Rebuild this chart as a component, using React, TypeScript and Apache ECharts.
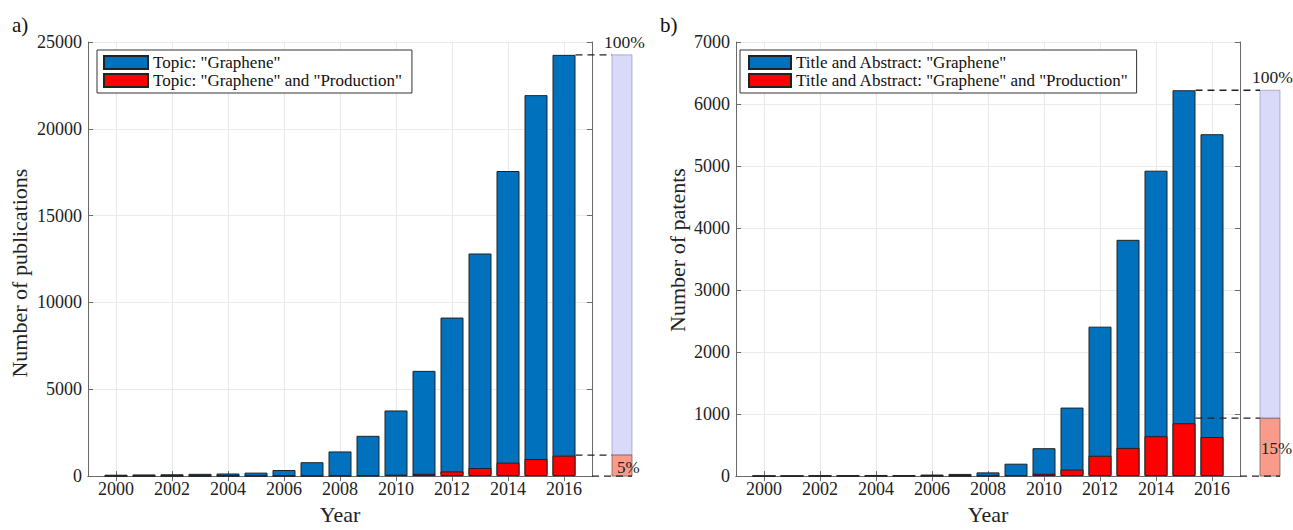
import React, { useEffect, useRef } from "react";
import * as echarts from "echarts";

// ---------- data ----------
const years = [2000, 2001, 2002, 2003, 2004, 2005, 2006, 2007, 2008, 2009, 2010, 2011, 2012, 2013, 2014, 2015, 2016];
const pubTotal = [80, 95, 105, 130, 150, 200, 350, 800, 1420, 2320, 3780, 6060, 9130, 12820, 17570, 21940, 24260];
const pubProduction = [0, 0, 0, 2, 3, 4, 5, 8, 15, 30, 80, 130, 270, 465, 777, 981, 1180];
const patTotal = [3, 4, 10, 12, 18, 16, 25, 35, 60, 200, 450, 1105, 2410, 3810, 4925, 6222, 5513];
const patProduction = [0, 0, 0, 0, 1, 1, 2, 2, 4, 11, 38, 106, 328, 455, 643, 852, 630];
const seriesNames = [
  'Topic: "Graphene"',
  'Topic: "Graphene" and "Production"',
  'Title and Abstract: "Graphene"',
  'Title and Abstract: "Graphene" and "Production"',
];
const shareFractions = [0.05, 0.15];
const shareLabels = ["5%", "15%"];
const fullLabel = "100%";
const panelLabels = ["a)", "b)"];
const yNames = ["Number of publications", "Number of patents"];
const xName = "Year";
const yMax = [25000, 7000];
const yStep = [5000, 1000];

// ---------- style ----------
const FONT = '"Liberation Serif", "Times New Roman", serif';
const BLUE = "#0072BD";
const RED = "#FF0000";
const EDGE = "#222222";
const AXIS = "#6a6a6a";
const GRIDC = "#e9e9e9";
const BAR_W = 23;
const PCT_OFFSET = 20;
const PCT_W = 20;

const categories = ["1999", ...years.map(String), "2017"];
const pad = (arr: number[]) => ["-", ...arr, "-"];
const isLabeled = (_i: number, v: string) => {
  const n = Number(v);
  return n >= 2000 && n <= 2016 && n % 2 === 0;
};
const argMax = (arr: number[]) => {
  let m = 0;
  arr.forEach((v, i) => {
    if (v > arr[m]) m = i;
  });
  return m;
};

function axesFor(g: number, max: number, step: number, yName: string, nameGap: number, namePad: number[]) {
  const xs = [
    {
      type: "category",
      gridIndex: g,
      data: categories,
      boundaryGap: false,
      position: "bottom",
      name: xName,
      nameLocation: "middle",
      nameGap: 25,
      nameTextStyle: { fontSize: 22, color: "#222", fontFamily: FONT },
      axisLine: { show: true, lineStyle: { color: AXIS, width: 1 } },
      axisTick: { show: true, inside: true, length: 5, interval: isLabeled, lineStyle: { color: AXIS } },
      axisLabel: { interval: isLabeled, fontSize: 18, color: "#222", margin: 4, fontFamily: FONT },
      splitLine: { show: true, interval: isLabeled, lineStyle: { color: GRIDC, width: 1 } },
    },
    {
      type: "category",
      gridIndex: g,
      data: categories,
      boundaryGap: false,
      position: "top",
      axisLine: { show: true, lineStyle: { color: AXIS, width: 1 } },
      axisTick: { show: true, inside: true, length: 5, interval: isLabeled, lineStyle: { color: AXIS } },
      axisLabel: { show: false },
      splitLine: { show: false },
    },
  ];
  const ys = [
    {
      type: "value",
      gridIndex: g,
      min: 0,
      max,
      interval: step,
      position: "left",
      name: yName,
      nameLocation: "middle",
      nameGap,
      nameTextStyle: { fontSize: 22, color: "#222", fontFamily: FONT, padding: namePad },
      axisLine: { show: true, lineStyle: { color: AXIS, width: 1 } },
      axisTick: { show: true, inside: true, length: 5, lineStyle: { color: AXIS } },
      axisLabel: { fontSize: 18, color: "#222", margin: 6, fontFamily: FONT, formatter: (v: number) => String(v) },
      splitLine: { show: true, lineStyle: { color: GRIDC, width: 1 } },
    },
    {
      type: "value",
      gridIndex: g,
      min: 0,
      max,
      interval: step,
      position: "right",
      axisLine: { show: true, lineStyle: { color: AXIS, width: 1 } },
      axisTick: { show: true, inside: true, length: 5, lineStyle: { color: AXIS } },
      axisLabel: { show: false },
      splitLine: { show: false },
    },
  ];
  return { xs, ys };
}

function barSeries(g: number, name: string, data: number[], color: string) {
  return {
    type: "bar",
    name,
    xAxisIndex: g * 2,
    yAxisIndex: g * 2,
    data: pad(data),
    barWidth: BAR_W,
    barGap: "-100%",
    itemStyle: { color, borderColor: EDGE, borderWidth: 1 },
    emphasis: { disabled: true },
  };
}

function overlaySeries(g: number, totals: number[], frac: number) {
  const maxI = argMax(totals);
  const top = totals[maxI];
  const share = top * frac;
  return {
    type: "custom",
    xAxisIndex: g * 2,
    yAxisIndex: g * 2,
    z: 3,
    silent: true,
    clip: false,
    data: [[maxI + 1, top, share]],
    encode: { x: 0, y: 1 },
    renderItem: (_params: any, api: any) => {
      const idx = api.value(0);
      const vTop = api.value(1);
      const vShare = api.value(2);
      const [plotRight, y0] = api.coord([categories.length - 1, 0]);
      const yTop = api.coord([idx, vTop])[1];
      const yShare = api.coord([idx, vShare])[1];
      const barRight = api.coord([idx, 0])[0] + BAR_W / 2;
      const px = plotRight + PCT_OFFSET;
      const pw = PCT_W;
      const dash = { stroke: "#222", lineWidth: 1.3, lineDash: [7, 5] };
      return {
        type: "group",
        children: [
          {
            type: "rect",
            shape: { x: px, y: yTop, width: pw, height: yShare - yTop },
            style: { fill: "#d9d9fa", stroke: "rgba(120,120,160,0.5)", lineWidth: 1 },
          },
          {
            type: "rect",
            shape: { x: px, y: yShare, width: pw, height: y0 - yShare },
            style: { fill: "#fa9a8a", stroke: "rgba(90,90,90,0.7)", lineWidth: 1 },
          },
          { type: "line", shape: { x1: barRight, y1: yTop, x2: px, y2: yTop }, style: dash },
          { type: "line", shape: { x1: barRight, y1: yShare, x2: px, y2: yShare }, style: dash },
          { type: "line", shape: { x1: plotRight, y1: y0, x2: px + pw, y2: y0 }, style: dash },
        ],
      };
    },
  };
}

export default function App() {
  const ref = useRef<HTMLDivElement>(null);
  useEffect(() => {
    if (!ref.current) return;
    const chart = echarts.init(ref.current, undefined, { renderer: "svg" });
    const a0 = axesFor(0, yMax[0], yStep[0], yNames[0], 58, [0, 28, 0, 0]);
    const a1 = axesFor(1, yMax[1], yStep[1], yNames[1], 48, [0, 0, 0, 18]);
    const legendBase = {
      orient: "vertical",
      icon: "rect",
      itemHeight: 13,
      itemGap: 1,
      backgroundColor: "#fff",
      borderColor: "#333",
      borderWidth: 1,
      selectedMode: false,
      z: 5,
      textStyle: { fontSize: 17, lineHeight: 17, color: "#111", fontFamily: FONT },
    };
    const titleStyle = { fontSize: 21, fontWeight: "normal", color: "#111", fontFamily: FONT };
    const baseTitles = [
      { text: panelLabels[0], left: 12, top: 14, padding: 0, textStyle: titleStyle },
      { text: panelLabels[1], left: 660, top: 14, padding: 0, textStyle: titleStyle },
    ];
    chart.setOption({
      animation: false,
      textStyle: { fontFamily: FONT },
      title: baseTitles,
      grid: [
        { left: 88, top: 42, width: 504, height: 441, containLabel: false },
        { left: 736, top: 42, width: 504, height: 441, containLabel: false },
      ],
      xAxis: [...a0.xs, ...a1.xs],
      yAxis: [...a0.ys, ...a1.ys],
      legend: [
        { ...legendBase, left: 97, top: 50, itemWidth: 44, padding: [4, 10, 4, 6], data: [seriesNames[0], seriesNames[1]] },
        { ...legendBase, left: 740, top: 50, itemWidth: 42, padding: [4, 8, 4, 8], data: [seriesNames[2], seriesNames[3]] },
      ],
      series: [
        barSeries(0, seriesNames[0], pubTotal, BLUE),
        barSeries(0, seriesNames[1], pubProduction, RED),
        barSeries(1, seriesNames[2], patTotal, BLUE),
        barSeries(1, seriesNames[3], patProduction, RED),
        overlaySeries(0, pubTotal, shareFractions[0]),
        overlaySeries(1, patTotal, shareFractions[1]),
      ],
    });

    // percentage texts, placed through the axes' own scales
    const totalsList = [pubTotal, patTotal];
    const shareDx = [5, 1];
    const pctTitles: any[] = [];
    totalsList.forEach((totals, g) => {
      const finder = { xAxisIndex: g * 2, yAxisIndex: g * 2 };
      const maxI = argMax(totals);
      const top = totals[maxI];
      const share = top * shareFractions[g];
      const plotRight = (chart.convertToPixel(finder, [categories.length - 1, 0]) as number[])[0];
      const y0 = (chart.convertToPixel(finder, [maxI + 1, 0]) as number[])[1];
      const yTop = (chart.convertToPixel(finder, [maxI + 1, top]) as number[])[1];
      const yShare = (chart.convertToPixel(finder, [maxI + 1, share]) as number[])[1];
      const px = plotRight + PCT_OFFSET;
      pctTitles.push({
        text: fullLabel,
        left: px - 8,
        top: yTop - 22,
        padding: 0,
        z: 20,
        textStyle: { fontSize: 17.5, lineHeight: 18, fontWeight: "normal", color: "#222", fontFamily: FONT },
      });
      pctTitles.push({
        text: shareLabels[g],
        left: px + shareDx[g],
        top: (yShare + y0) / 2 - 7,
        padding: 0,
        z: 20,
        textStyle: { fontSize: 17, lineHeight: 17, fontWeight: "normal", color: "#222", fontFamily: FONT },
      });
    });
    chart.setOption({ title: [...baseTitles, ...pctTitles] });
    return () => chart.dispose();
  }, []);
  return <div ref={ref} style={{ position: "fixed", left: 0, top: 0, width: 1293, height: 530, background: "#fff" }} />;
}
